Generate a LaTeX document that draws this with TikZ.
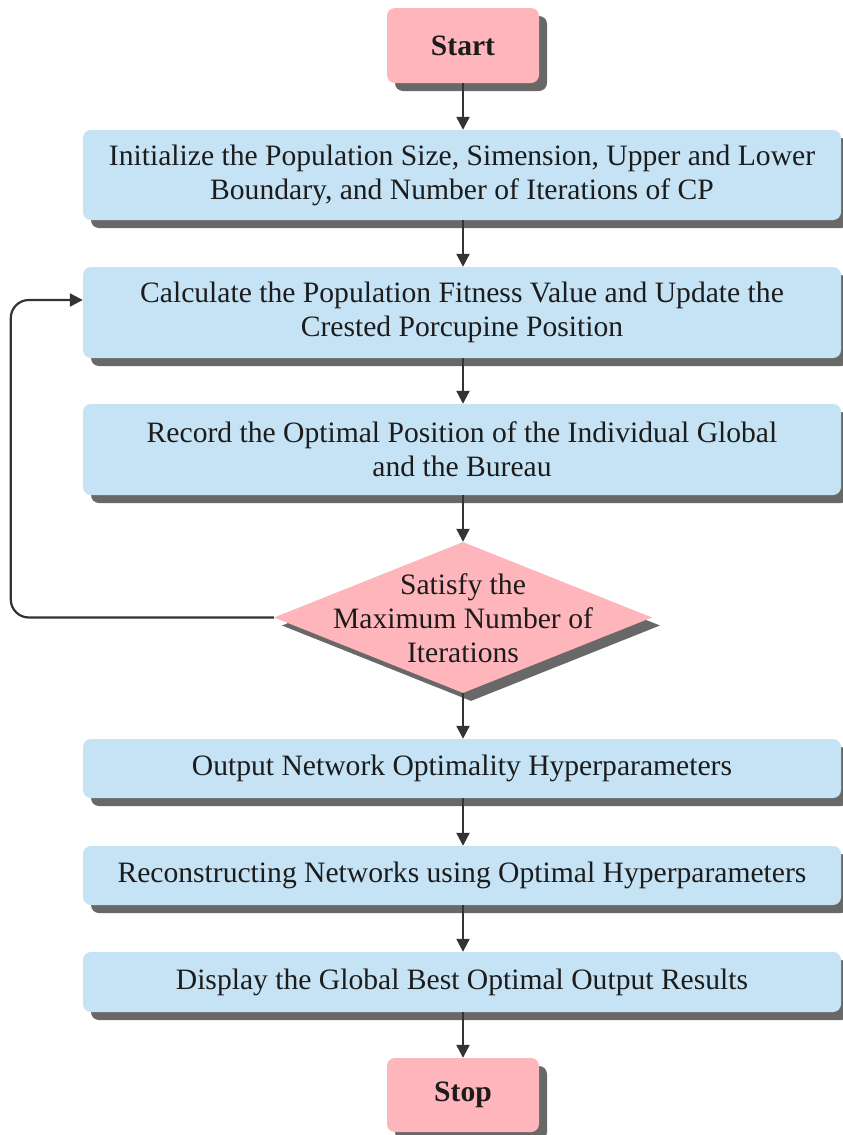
\documentclass[tikz,border=0pt]{standalone}
\usepackage{fontspec}
\setmainfont{Liberation Serif}
\usetikzlibrary{shapes.geometric,shadows,arrows.meta}
\definecolor{boxblue}{HTML}{C5E3F4}
\definecolor{boxpink}{HTML}{FFB5BC}
\definecolor{shad}{HTML}{686868}
\definecolor{ink}{HTML}{1C1C1C}
\definecolor{arr}{HTML}{333333}
\begin{document}
\begin{tikzpicture}[x=1pt,y=-1pt,
  txt/.style={text=ink, align=center, font=\fontsize{29.6}{34}\selectfont},
  shadowed/.style={drop shadow={shadow xshift=8pt, shadow yshift=-8pt, fill=shad, opacity=1}},
  procbox/.style={txt, shadowed, rounded corners=8pt, fill=boxblue, draw=none,
    inner sep=0pt, minimum width=758pt},
  termbox/.style={txt, shadowed, rounded corners=8pt, fill=boxpink, draw=none,
    inner sep=0pt, minimum width=152pt, minimum height=75pt, font=\fontsize{29.6}{34}\selectfont\bfseries},
  decision/.style={shadowed, diamond, fill=boxpink, draw=none, inner sep=0pt,
    minimum width=378pt, minimum height=151pt},
  flow/.style={draw=arr, line width=2.2pt, -{Triangle[length=13pt,width=13pt]}}
]
\useasboundingbox (0,0) rectangle (843,1135);
\fill[white] (0,0) rectangle (843,1135);

\node[termbox] (start) at (463,45.5) {Start};
\node[procbox, minimum height=90pt] (init) at (462,175)
  {Initialize the Population Size, Simension, Upper and Lower\\Boundary, and Number of Iterations of CP};
\node[procbox, minimum height=91pt] (calc) at (462,312.5)
  {Calculate the Population Fitness Value and Update the\\Crested Porcupine Position};
\node[procbox, minimum height=91pt] (rec) at (462,449.5)
  {Record the Optimal Position of the Individual Global\\and the Bureau};
\node[decision] (dec) at (463,617.5) {};
\node[txt] (dectext) at (463,618) {Satisfy the\\Maximum Number of\\Iterations};
\node[procbox, minimum height=59pt] (out) at (462,768.5)
  {Output Network Optimality Hyperparameters};
\node[procbox, minimum height=59pt] (recon) at (462,875.5)
  {Reconstructing Networks using Optimal Hyperparameters};
\node[procbox, minimum height=60pt] (disp) at (462,982)
  {Display the Global Best Optimal Output Results};
\node[termbox, minimum height=74pt] (stop) at (463,1095) {Stop};

\draw[flow] (start.south) -- (start.south |- init.north);
\draw[flow] (init.south -| start.south) -- (start.south |- calc.north);
\draw[flow] (calc.south -| start.south) -- (start.south |- rec.north);
\draw[flow] (rec.south -| start.south) -- (dec.north);
\draw[flow] (dec.south) -- (dec.south |- out.north);
\draw[flow] (out.south -| dec.south) -- (dec.south |- recon.north);
\draw[flow] (recon.south -| dec.south) -- (dec.south |- disp.north);
\draw[flow] (disp.south -| dec.south) -- (stop.north);
\draw[flow, rounded corners=18pt] (dec.west) -- ++(-263,0) |- ([yshift=12.5pt]calc.west);
\end{tikzpicture}
\end{document}
